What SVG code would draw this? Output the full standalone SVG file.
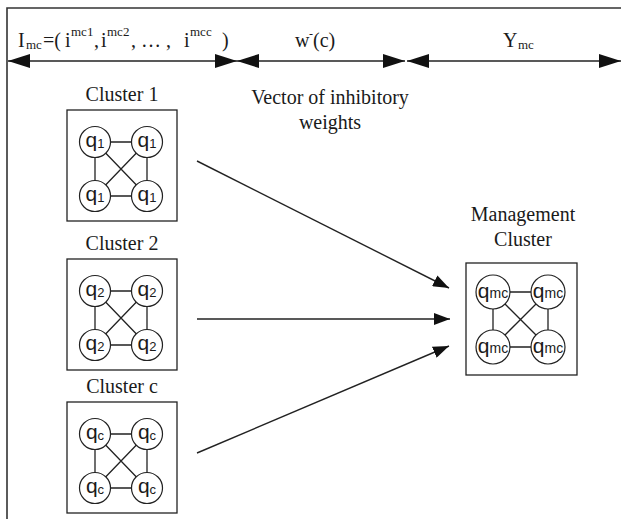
<svg xmlns="http://www.w3.org/2000/svg" width="621" height="519" viewBox="0 0 621 519">
<defs>
<style>
.serif{font-family:"Liberation Serif","Times New Roman",serif;fill:#1a1a1a}
.lbl{font-size:20px;text-anchor:middle}
.sm{font-size:13px}
.box{fill:#fff;stroke:#222;stroke-width:1.3}
.edge{stroke:#222;stroke-width:1.3;fill:none}
.nd{fill:#fff;stroke:#222;stroke-width:1.2}
.q{font-family:"Liberation Sans",Arial,sans-serif;font-size:21px;fill:#1a1a1a;text-anchor:middle}
.conn{stroke:#222;stroke-width:1.4;fill:none}
</style>
<marker id="bigHead" viewBox="0 0 22 14" refX="22" refY="7" markerWidth="22" markerHeight="14" markerUnits="userSpaceOnUse" orient="auto-start-reverse">
<path d="M0,0 L22,7 L0,14 z" fill="#111"/>
</marker>
<marker id="head" viewBox="0 0 16 12" refX="16" refY="6" markerWidth="16" markerHeight="12" markerUnits="userSpaceOnUse" orient="auto">
<path d="M0,0 L16,6 L0,12 z" fill="#111"/>
</marker>
</defs>
<rect width="621" height="519" fill="#fff"/>
<path d="M7,519 L7,8 L621,8" fill="none" stroke="#333" stroke-width="1.6"/>

<g id="header">
<text class="serif" font-size="20" y="47"><tspan x="18">I</tspan><tspan x="26" y="49" class="sm">mc</tspan><tspan x="43" y="47">=(</tspan><tspan x="65" y="47">i</tspan><tspan x="71" y="36" class="sm">mc1</tspan><tspan x="94" y="47">,</tspan><tspan x="101" y="47">i</tspan><tspan x="107" y="36" class="sm">mc2</tspan><tspan x="131" y="47">, … ,</tspan><tspan x="184" y="47">i</tspan><tspan x="190" y="36" class="sm">mcc</tspan><tspan x="222" y="47">)</tspan></text>
<text class="serif" font-size="20" y="47"><tspan x="295">w</tspan><tspan x="309" y="38" font-size="12">-</tspan><tspan x="313" y="47">(c)</tspan></text>
<text class="serif" font-size="20" y="47"><tspan x="503">Y</tspan><tspan x="518" y="49" class="sm">mc</tspan></text>
<text class="serif lbl" x="330" y="104">Vector of inhibitory</text>
<text class="serif lbl" x="330" y="129">weights</text>
</g>

<g id="connectors">
<line class="conn" x1="8" y1="61" x2="237" y2="61" marker-start="url(#bigHead)" marker-end="url(#bigHead)"/>
<line class="conn" x1="237" y1="61" x2="405" y2="61" marker-start="url(#bigHead)" marker-end="url(#bigHead)"/>
<line class="conn" x1="407" y1="61" x2="621" y2="61" marker-start="url(#bigHead)" marker-end="url(#bigHead)"/>
<line class="conn" x1="197" y1="161" x2="449" y2="288" marker-end="url(#head)"/>
<line class="conn" x1="197" y1="319" x2="450" y2="319" marker-end="url(#head)"/>
<line class="conn" x1="197" y1="453" x2="449" y2="346" marker-end="url(#head)"/>
</g>

<g id="cluster1">
<text class="serif lbl" x="122" y="101">Cluster 1</text>
<rect class="box" x="67" y="110" width="110" height="111"/>
<path class="edge" d="M95,142 H147 M95,196 H147 M95,142 V196 M147,142 V196 M95,142 L147,196 M147,142 L95,196"/>
<circle class="nd" cx="95" cy="142" r="15.5"/><circle class="nd" cx="147" cy="142" r="15.5"/>
<circle class="nd" cx="95" cy="196" r="15.5"/><circle class="nd" cx="147" cy="196" r="15.5"/>
<text class="q" x="95" y="147">q<tspan font-size="13" dy="1">1</tspan></text>
<text class="q" x="147" y="147">q<tspan font-size="13" dy="1">1</tspan></text>
<text class="q" x="95" y="201">q<tspan font-size="13" dy="1">1</tspan></text>
<text class="q" x="147" y="201">q<tspan font-size="13" dy="1">1</tspan></text>
</g>

<g id="cluster2">
<text class="serif lbl" x="122" y="250">Cluster 2</text>
<rect class="box" x="67" y="259" width="110" height="111"/>
<path class="edge" d="M95,291 H147 M95,345 H147 M95,291 V345 M147,291 V345 M95,291 L147,345 M147,291 L95,345"/>
<circle class="nd" cx="95" cy="291" r="15.5"/><circle class="nd" cx="147" cy="291" r="15.5"/>
<circle class="nd" cx="95" cy="345" r="15.5"/><circle class="nd" cx="147" cy="345" r="15.5"/>
<text class="q" x="95" y="296">q<tspan font-size="13" dy="1">2</tspan></text>
<text class="q" x="147" y="296">q<tspan font-size="13" dy="1">2</tspan></text>
<text class="q" x="95" y="350">q<tspan font-size="13" dy="1">2</tspan></text>
<text class="q" x="147" y="350">q<tspan font-size="13" dy="1">2</tspan></text>
</g>

<g id="clusterc">
<text class="serif lbl" x="122" y="393">Cluster c</text>
<rect class="box" x="67" y="402" width="110" height="111"/>
<path class="edge" d="M95,434 H147 M95,488 H147 M95,434 V488 M147,434 V488 M95,434 L147,488 M147,434 L95,488"/>
<circle class="nd" cx="95" cy="434" r="15.5"/><circle class="nd" cx="147" cy="434" r="15.5"/>
<circle class="nd" cx="95" cy="488" r="15.5"/><circle class="nd" cx="147" cy="488" r="15.5"/>
<text class="q" x="95" y="439">q<tspan font-size="13" dy="1">c</tspan></text>
<text class="q" x="147" y="439">q<tspan font-size="13" dy="1">c</tspan></text>
<text class="q" x="95" y="493">q<tspan font-size="13" dy="1">c</tspan></text>
<text class="q" x="147" y="493">q<tspan font-size="13" dy="1">c</tspan></text>
</g>

<g id="management">
<text class="serif lbl" x="523" y="221">Management</text>
<text class="serif lbl" x="523" y="246">Cluster</text>
<rect class="box" x="466" y="263" width="111" height="112"/>
<path class="edge" d="M493,292 H548 M493,347 H548 M493,292 V347 M548,292 V347 M493,292 L548,347 M548,292 L493,347"/>
<circle class="nd" cx="493" cy="292" r="17"/><circle class="nd" cx="548" cy="292" r="17"/>
<circle class="nd" cx="493" cy="347" r="17"/><circle class="nd" cx="548" cy="347" r="17"/>
<text class="q" x="493" y="298">q<tspan font-size="14">mc</tspan></text>
<text class="q" x="548" y="298">q<tspan font-size="14">mc</tspan></text>
<text class="q" x="493" y="353">q<tspan font-size="14">mc</tspan></text>
<text class="q" x="548" y="353">q<tspan font-size="14">mc</tspan></text>
</g>
</svg>
